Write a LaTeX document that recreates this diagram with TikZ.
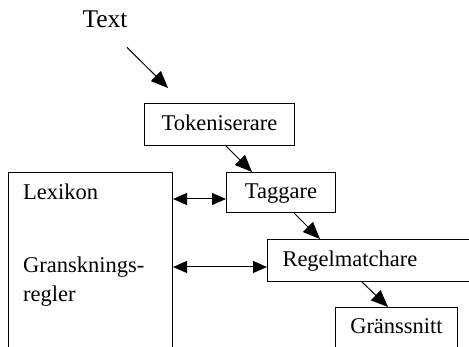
\documentclass[tikz,border=0pt]{standalone}
\usepackage{fontspec}
\setmainfont{Liberation Serif}
\usetikzlibrary{arrows.meta}
\begin{document}
\begin{tikzpicture}[x=1pt,y=1pt,
  box/.style={draw, line width=1pt, inner sep=0pt, anchor=north west,
    font=\fontsize{22.5}{27}\selectfont, text height=15.5pt, text depth=3pt},
  lbl/.style={inner sep=0pt, anchor=base west, font=\fontsize{22.5}{27}\selectfont},
  arr/.style={line width=1pt, -{Triangle[length=17pt,width=14pt]}},
  darr/.style={line width=1pt, {Triangle[length=14pt,width=12pt]}-{Triangle[length=14pt,width=12pt]}}]
\clip (0,0) rectangle (469,-347);
\fill[white] (0,0) rectangle (469,-347);
% input label
\node[inner sep=0pt, anchor=base, font=\fontsize{25.5}{30}\selectfont] (txt) at (105,-28) {Text};
% boxes
\node[box, minimum width=150, minimum height=42] (tok) at (144,-103) {Tokeniserare};
\node[box, minimum width=109, minimum height=40] (tag) at (226,-172) {Taggare};
\node[box, minimum width=240, minimum height=42, text width=220, align=left, inner xsep=15] (reg) at (267,-239) {Regelmatchare};
\node[box, minimum width=122, minimum height=80, text height=15.5pt, text depth=44pt] (gr) at (335,-307) {Gränssnitt};
\node[draw, line width=1pt, anchor=north west, minimum width=164, minimum height=220, inner sep=0pt] (lex) at (8,-172) {};
\node[lbl] (lexl) at (23,-200) {Lexikon};
\node[inner sep=0pt, anchor=north west, align=left, font=\fontsize{22.5}{29}\selectfont] (gr2) at (23,-256.5) {Gransknings-\\regler};
% connectors
\coordinate (s0) at ([shift={(22,-19)}]txt.south);
\coordinate (e0) at ([shift={(24,15)}]tok.north west);
\draw[arr] (s0) -- (e0);
\draw[arr] ([xshift=82]tok.south west) -- ([xshift=26]tag.north west);
\draw[arr] ([xshift=68]tag.south west) -- ([xshift=53]reg.north west);
\draw[arr] ([xshift=95]reg.south west) -- ([xshift=53]gr.north west);
\draw[darr] (lex.east |- 0,-199) -- (tag.west |- 0,-199);
\draw[darr] (lex.east |- 0,-267) -- (reg.west |- 0,-267);
\end{tikzpicture}
\end{document}
